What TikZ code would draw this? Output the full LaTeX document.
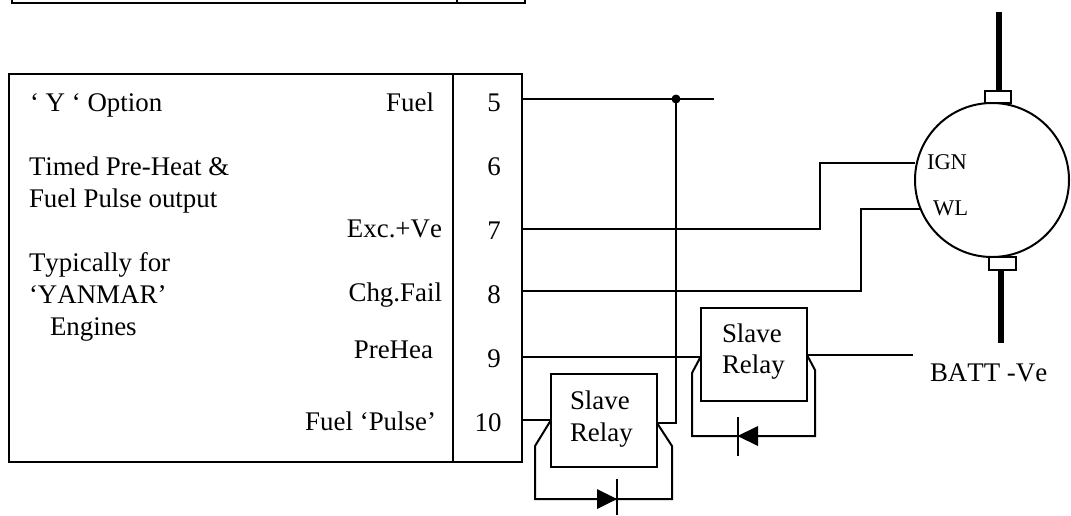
\documentclass[tikz,border=0pt]{standalone}
\usepackage{fontspec}
\setmainfont[Kerning=Off]{Liberation Serif}
\tikzset{
  wire/.style={line width=2pt,line join=miter},
  rail/.style={line width=5.5pt},
  boxed/.style={draw,line width=2pt,inner sep=0pt,outer sep=0pt},
  relaybox/.style={boxed,minimum width=106pt,minimum height=93pt},
  txt/.style={inner sep=0pt,outer sep=0pt,anchor=base west,font=\fontsize{26.9}{32}\selectfont},
  rtxt/.style={txt,anchor=base east},
  ctxt/.style={txt,anchor=base},
  stxt/.style={txt,font=\fontsize{22.5}{27}\selectfont},
  diodetri/.style={fill=black,draw=none}
}
\begin{document}
\begin{tikzpicture}[x=1pt,y=-1pt]
\useasboundingbox (0,0) rectangle (1071,515);
% top partial box
\coordinate (ta) at (12,0); \coordinate (tb) at (12,3); \coordinate (tc) at (525,3); \coordinate (td) at (525,0);
\coordinate (te) at (457,0); \coordinate (tf) at (457,3);
\draw[wire] (ta) -- (tb) -- (tc) -- (td);
\draw[wire] (te) -- (tf);
% main box
\node[boxed,minimum width=513.5pt,minimum height=388pt] (main) at (265.25,268) {};
\coordinate (dt) at (453,74); \coordinate (db) at (453,462);
\draw[wire] (dt) -- (db);
% main texts
\node[txt] (t1) at (30,111) {‘ Y ‘ Option};
\node[rtxt] (f1) at (434,111) {Fuel};
\node[txt] (t2) at (29,175) {Timed Pre-Heat \&};
\node[txt] (t3) at (29,207) {Fuel Pulse output};
\node[rtxt] (f2) at (442,237) {Exc.+Ve};
\node[txt] (t4) at (29,271) {Typically for};
\node[rtxt] (f3) at (442,301) {Chg.Fail};
\node[txt] (t5) at (29,303) {‘YANMAR’};
\node[txt] (t6) at (50,335) {Engines};
\node[rtxt] (f4) at (433,358) {PreHea};
\node[rtxt] (f5) at (436,430) {Fuel ‘Pulse’};
\node[ctxt] (n5) at (494,111) {5};
\node[ctxt] (n6) at (494,175) {6};
\node[ctxt] (n7) at (494,239) {7};
\node[ctxt] (n8) at (494,303) {8};
\node[ctxt] (n9) at (494,367) {9};
\node[ctxt] (n10) at (488,431) {10};
% motor
\node[draw,circle,line width=2pt,minimum size=154pt,inner sep=0pt,outer sep=0pt] (motor) at (992,180) {};
\node[boxed,minimum width=26pt,minimum height=12pt] (captop) at (998,97) {};
\node[boxed,minimum width=27pt,minimum height=13pt] (capbot) at (1002.5,263.5) {};
\coordinate (railtop) at (999,12);
\coordinate (railbot) at (1001,343);
\draw[rail] (railtop) -- (999,92);
\draw[rail] (1001,270) -- (railbot);
\node[stxt] (ign) at (927,169) {IGN};
\node[stxt] (wl) at (933,215) {WL};
\node[txt] (batt) at (930,381) {BATT -Ve};
% relays
\node[relaybox] (r1) at (604,420.5) {};
\node[relaybox] (r2) at (754,354.5) {};
\node[txt] (s1) at (570,409) {Slave};
\node[txt] (l1) at (570,441) {Relay};
\node[txt] (s2) at (722,342) {Slave};
\node[txt] (l2) at (722,373) {Relay};
% terminal wires
\coordinate (p5) at (522,99); \coordinate (e5) at (714,99); \coordinate (j) at (676,99);
\coordinate (p7) at (522,229); \coordinate (p8) at (522,291); \coordinate (p9) at (522,357); \coordinate (p10) at (522,420);
\coordinate (ignin) at (915,163); \coordinate (wlin) at (920,209);
\coordinate (r1l) at (551,420); \coordinate (r1r) at (657,423);
\coordinate (r2l) at (700.5,357); \coordinate (r2r) at (807,355);
\coordinate (battw) at (913,355);
\draw[wire] (p5) -- (e5);
\fill (j) circle (4.5pt);
\draw[wire] (j) -- (676,423) -- (r1r);
\draw[wire] (p7) -- (820,229) -- (820,163) -- (ignin);
\draw[wire] (p8) -- (861,291) -- (861,209) -- (wlin);
\draw[wire] (p9) -- (r2l);
\draw[wire] (p10) -- (r1l);
\draw[wire] (r2r) -- (battw);
% relay 1 contact loop and diode
\draw[wire] (r1l) -- (535,446) -- (535,499) -- (672,499) -- (672,446) -- (r1r);
\fill[diodetri] (597,489) -- (617,499) -- (597,509) -- cycle;
\draw[wire] (617,479) -- (617,515);
% relay 2 contact loop and diode
\draw[wire] (r2l) -- (692,373) -- (692,436) -- (815,436) -- (815,370) -- (r2r);
\fill[diodetri] (758,426) -- (737.5,436) -- (758,446) -- cycle;
\draw[wire] (737.5,417) -- (737.5,456);
\end{tikzpicture}
\end{document}
